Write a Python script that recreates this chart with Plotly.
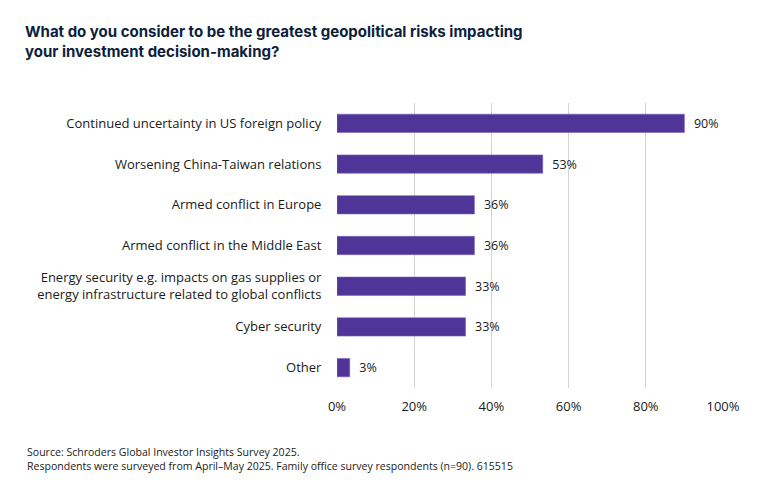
import plotly.graph_objects as go

risks = [
    "Continued uncertainty in US foreign policy",
    "Worsening China-Taiwan relations",
    "Armed conflict in Europe",
    "Armed conflict in the Middle East",
    "Energy security e.g. impacts on gas supplies or<br>energy infrastructure related to global conflicts",
    "Cyber security",
    "Other",
]
share = [90.0, 53.3, 35.6, 35.6, 33.3, 33.3, 3.3]
share_labels = ["90%", "53%", "36%", "36%", "33%", "33%", "3%"]
tick_vals = [0, 20, 40, 60, 80, 100]
tick_text = ["0%", "20%", "40%", "60%", "80%", "100%"]

fig = go.Figure()
fig.add_trace(go.Bar(
    x=share,
    y=risks,
    orientation="h",
    width=0.45,
    marker=dict(color="#4f3597", line=dict(color="#7a62c0", width=0.6)),
    text=share_labels,
    texttemplate="  %{text}",
    textposition="outside",
    textfont=dict(family="Open Sans", size=12.5, color="#1a1a1a"),
    cliponaxis=False,
    hoverinfo="skip",
))

fig.update_layout(
    width=770,
    height=496,
    margin=dict(l=329, r=55, t=95, b=116),
    paper_bgcolor="white",
    plot_bgcolor="white",
    showlegend=False,
    font=dict(family="Open Sans", size=13, color="#1a1a1a"),
    title=dict(
        text="<b>What do you consider to be the greatest geopolitical risks impacting<br>your investment decision-making?</b>",
        x=17 / 770, xanchor="left",
        y=1 - 29 / 496, yanchor="top",
        font=dict(family="Inter", size=15, color="#0c1e3c"),
    ),
    xaxis=dict(
        range=[0, 100],
        tickvals=tick_vals,
        ticktext=tick_text,
        showgrid=True,
        gridcolor="#d4d4d4",
        gridwidth=1,
        zeroline=False,
        showline=False,
        ticks="outside",
        ticklen=6,
        tickcolor="white",
        tickfont=dict(family="Open Sans", size=13, color="#1a1a1a"),
        fixedrange=True,
    ),
    yaxis=dict(
        autorange="reversed",
        showgrid=False,
        ticks="outside",
        ticklen=12,
        tickcolor="white",
        tickfont=dict(family="Open Sans", size=13, color="#1a1a1a"),
        fixedrange=True,
    ),
    annotations=[
        dict(
            text="Source: Schroders Global Investor Insights Survey 2025.<br>"
                 "Respondents were surveyed from April–May 2025. Family office survey respondents (n=90). 615515",
            xref="paper", yref="paper",
            x=-312 / 386, y=0.0,
            xanchor="left", yanchor="top",
            yshift=-55,
            align="left",
            showarrow=False,
            font=dict(family="Open Sans", size=10.55, color="#1a1a1a"),
        )
    ],
)

fig.write_html("out.html")
